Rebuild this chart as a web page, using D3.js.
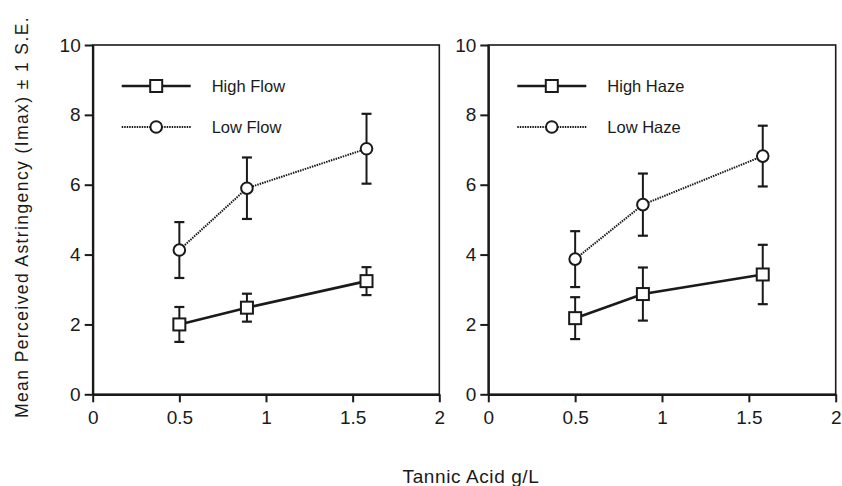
<!DOCTYPE html>
<html>
<head>
<meta charset="utf-8">
<script src="https://cdn.jsdelivr.net/npm/d3@7"></script>
<style>
	body { margin: 0; background: #fff; }
	svg { display: block; font-family: "Liberation Sans", Arial, Helvetica, sans-serif; }
</style>
</head>
<body>
<svg id="chart" width="842" height="486"></svg>
<script>

// tannic acid doses (g/L)
const doses = [0.5, 0.89, 1.58]
const xTicks = [0, 0.5, 1, 1.5, 2]
const yTicks = [0, 2, 4, 6, 8, 10]

// left panel: flow
const highFlow = [2.0, 2.48, 3.24]
const highFlowSE = [0.5, 0.4, 0.4]
const lowFlow = [4.13, 5.9, 7.03]
const lowFlowSE = [0.8, 0.88, 1.0]

// right panel: haze
const highHaze = [2.18, 2.87, 3.43]
const highHazeSE = [0.6, 0.76, 0.85]
const lowHaze = [3.87, 5.43, 6.82]
const lowHazeSE = [0.8, 0.89, 0.87]

const panelNames = [["High Flow", "Low Flow"], ["High Haze", "Low Haze"]]

const svg = d3.select("#chart")
const ink = "#1a1a1a"

const plotTop = 45, plotBottom = 394.3

function drawPanel(left, right, highVals, highSE, lowVals, lowSE, names) {

	const x = d3.scaleLinear().domain([0, 2]).range([left, right])
	const y = d3.scaleLinear().domain([0, 10]).range([plotBottom, plotTop])

	const g = svg.append("g")

	// frame
	g.append("rect")
		.attr("x", x(0))
		.attr("y", y(10))
		.attr("width", x(2) - x(0))
		.attr("height", y(0) - y(10))
		.attr("fill", "none")
		.attr("stroke", ink)
		.attr("stroke-width", 1.6)

	// axes
	const xAxis = g.append("g")
		.attr("transform", "translate(0," + y(0) + ")")
		.call(d3.axisBottom(x).tickValues(xTicks).tickFormat(d3.format("")).tickSize(8).tickPadding(8).tickSizeOuter(0))
	const yAxis = g.append("g")
		.attr("transform", "translate(" + x(0) + ",0)")
		.call(d3.axisLeft(y).tickValues(yTicks).tickSize(8).tickPadding(4).tickSizeOuter(0))

	for (const ax of [xAxis, yAxis]) {
		ax.select(".domain").attr("stroke", ink).attr("stroke-width", 2.2)
		ax.selectAll(".tick line").attr("stroke", ink).attr("stroke-width", 2)
		ax.selectAll(".tick text")
			.attr("fill", ink)
			.style("font-size", "19px")
			.style("font-family", "'Liberation Sans', Arial, sans-serif")
	}

	const line = d3.line()
		.x((d, i) => x(doses[i]))
		.y(d => y(d))

	// error bars
	function errorBars(vals, se) {
		const eb = g.append("g")
			.selectAll("g")
			.data(vals)
			.join("g")
		eb.append("line")
			.attr("x1", (d, i) => x(doses[i]))
			.attr("x2", (d, i) => x(doses[i]))
			.attr("y1", (d, i) => y(d + se[i]))
			.attr("y2", (d, i) => y(d - se[i]))
			.attr("stroke", ink)
			.attr("stroke-width", 2)
		for (const s of [1, -1]) {
			eb.append("line")
				.attr("x1", (d, i) => x(doses[i]) - 5)
				.attr("x2", (d, i) => x(doses[i]) + 5)
				.attr("y1", (d, i) => y(d + s * se[i]))
				.attr("y2", (d, i) => y(d + s * se[i]))
				.attr("stroke", ink)
				.attr("stroke-width", 2.2)
		}
	}
	errorBars(lowVals, lowSE)
	errorBars(highVals, highSE)

	// low series: dotted line, open circles
	g.append("path")
		.datum(lowVals)
		.attr("d", line)
		.attr("fill", "none")
		.attr("stroke", ink)
		.attr("stroke-width", 2)
		.attr("stroke-dasharray", "1.5,1")
	g.append("g")
		.selectAll("circle")
		.data(lowVals)
		.join("circle")
		.attr("cx", (d, i) => x(doses[i]))
		.attr("cy", d => y(d))
		.attr("r", 5.8)
		.attr("fill", "#fff")
		.attr("stroke", ink)
		.attr("stroke-width", 2)

	// high series: solid line, open squares
	g.append("path")
		.datum(highVals)
		.attr("d", line)
		.attr("fill", "none")
		.attr("stroke", ink)
		.attr("stroke-width", 2.6)
	g.append("g")
		.selectAll("rect")
		.data(highVals)
		.join("rect")
		.attr("x", (d, i) => x(doses[i]) - 6)
		.attr("y", d => y(d) - 6)
		.attr("width", 12)
		.attr("height", 12)
		.attr("fill", "#fff")
		.attr("stroke", ink)
		.attr("stroke-width", 2)

	// legend
	const lx = x(0) + 29
	const legend = g.append("g")
	legend.append("line")
		.attr("x1", lx).attr("x2", lx + 69)
		.attr("y1", 86).attr("y2", 86)
		.attr("stroke", ink).attr("stroke-width", 2.6)
	legend.append("rect")
		.attr("x", lx + 34.5 - 6).attr("y", 80)
		.attr("width", 12).attr("height", 12)
		.attr("fill", "#fff").attr("stroke", ink).attr("stroke-width", 2)
	legend.append("line")
		.attr("x1", lx).attr("x2", lx + 69)
		.attr("y1", 127).attr("y2", 127)
		.attr("stroke", ink).attr("stroke-width", 2)
		.attr("stroke-dasharray", "1.5,1")
	legend.append("circle")
		.attr("cx", lx + 34.5).attr("cy", 127).attr("r", 5.8)
		.attr("fill", "#fff").attr("stroke", ink).attr("stroke-width", 2)
	legend.selectAll("text")
		.data(names)
		.join("text")
		.attr("x", lx + 90)
		.attr("y", (d, i) => 92 + i * 41)
		.attr("fill", ink)
		.style("font-size", "16.5px")
		.text(d => d)
}

drawPanel(92.7, 439.3, highFlow, highFlowSE, lowFlow, lowFlowSE, panelNames[0])
drawPanel(488.3, 835.7, highHaze, highHazeSE, lowHaze, lowHazeSE, panelNames[1])

// axis titles
svg.append("text")
	.attr("transform", "translate(27.5,217) rotate(-90)")
	.attr("text-anchor", "middle")
	.attr("fill", ink)
	.style("font-size", "17.5px")
	.style("letter-spacing", "1.4px")
	.text("Mean Perceived Astringency (Imax) \u00b1 1 S.E.")

svg.append("text")
	.attr("x", 471)
	.attr("y", 483)
	.attr("text-anchor", "middle")
	.attr("fill", ink)
	.style("font-size", "19px")
	.style("letter-spacing", "0.6px")
	.text("Tannic Acid g/L")

</script>
</body>
</html>
